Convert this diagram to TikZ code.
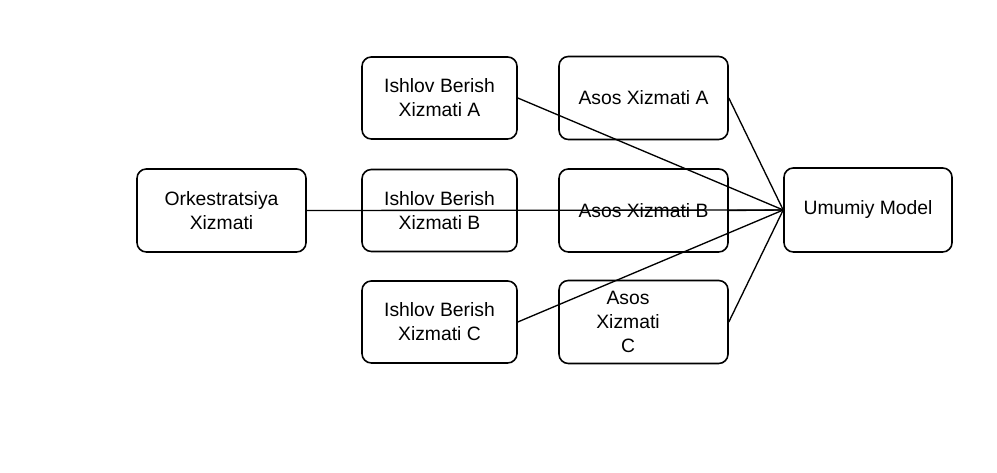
\documentclass[tikz,border=0pt]{standalone}
\usepackage{fontspec}
\setmainfont{Liberation Sans}
\begin{document}
\begin{tikzpicture}[font=\fontsize{14.5}{18}\selectfont, x=0.75pt, y=-0.75pt,
          svc/.style={draw=black, line width=1.2pt, rounded corners=7pt, align=center,
            minimum width=126.75pt, minimum height=62.25pt, inner sep=0pt},
          job/.style={svc, minimum width=116.25pt, minimum height=61.5pt},
          link/.style={draw=black, line width=1pt}]
        \useasboundingbox (0,0) rectangle (997,473);
        \node[svc] (orch) at (221.5,210.5) {Orkestratsiya\\Xizmati};
        \node[job] (jobA) at (439.5,98) {Ishlov Berish\\Xizmati A};
        \node[job] (jobB) at (439.5,210.5) {Ishlov Berish\\Xizmati B};
        \node[job] (jobC) at (439.5,322) {Ishlov Berish\\Xizmati C};
        \node[svc] (baseA) at (643.5,98) {Asos Xizmati A};
        \node[svc] (baseB) at (643.5,210.5) {Asos Xizmati B};
        \node[svc] (baseC) at (643.5,322) {};
        \node[align=center] (baseCtxt) at (628,322) {Asos\\Xizmati\\C};
        \node[svc, minimum width=126pt, minimum height=63pt] (model) at (868,210) {Umumiy Model};
        % connectors into the shared model
        \draw[link] (orch.east) -- (model.west);
        \draw[link] (jobA.east) -- (model.west);
        \draw[link] (jobC.east) -- (model.west);
        \draw[link] (baseA.east) -- (model.west);
        \draw[link] (baseB.east) -- (model.west);
        \draw[link] (baseC.east) -- (model.west);
      \end{tikzpicture}
\end{document}
